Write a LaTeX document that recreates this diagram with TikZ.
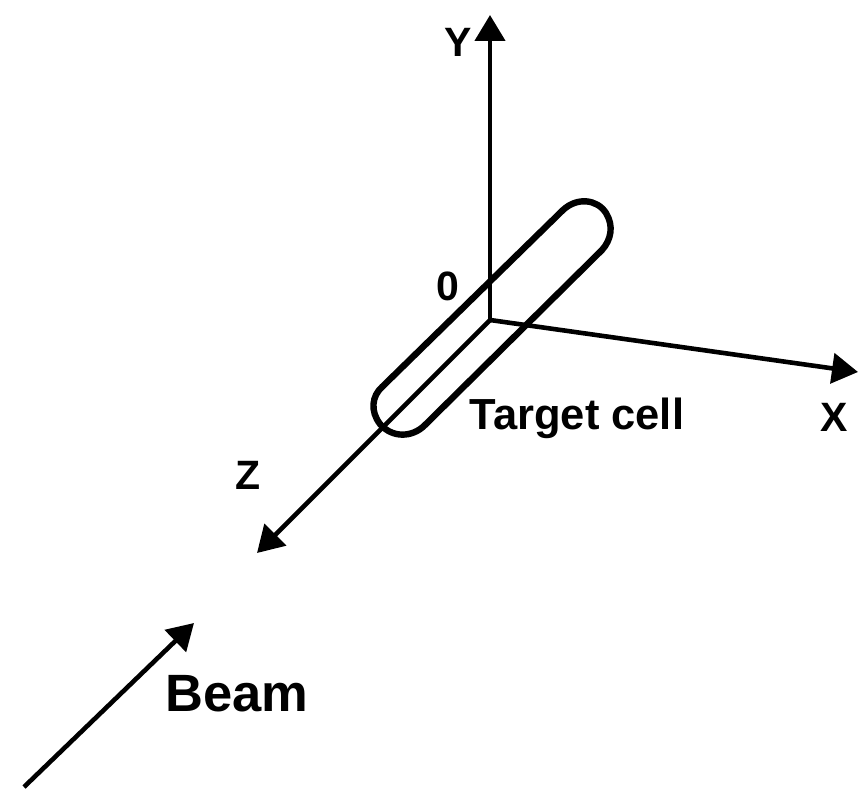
\documentclass[tikz,border=0pt]{standalone}
\usepackage{fontspec}
\setmainfont{Liberation Sans}
\usetikzlibrary{arrows.meta}
\tikzset{
  axis/.style={line width=4.6pt,black,-{Triangle[length=26pt,width=30pt]}},
  lbl/.style={font=\bfseries\fontsize{41pt}{43pt}\selectfont,inner sep=0pt,text=black},
  cell/.style={line width=6.4pt,black}
}
\begin{document}
\begin{tikzpicture}[x=1pt,y=-1pt]
\useasboundingbox (0,0) rectangle (858,789);
\coordinate (o) at (490,320);
\coordinate (yt) at (490,15);
\coordinate (xt) at (858,372);
\coordinate (zt) at (257,553);
\coordinate (b0) at (24,787);
\coordinate (b1) at (194,623);
\draw[axis] (o) -- (yt);
\draw[axis] (o) -- (xt);
\draw[axis] (o) -- (zt);
\draw[axis] (b0) -- (b1);
\draw[cell] (563,210) .. controls (577,197) and (597,199) .. (606,213) .. controls (614,226) and (611,240) .. (602,250)
 -- (425,425) .. controls (412,438) and (392,438) .. (380,424) .. controls (370,411) and (372,396) .. (382,387) -- cycle;
\node[lbl] (ly) at (458,42) {Y};
\node[lbl] (l0) at (448,286) {0};
\node[lbl,font=\bfseries\fontsize{43.5pt}{45pt}\selectfont] (lt) at (577,418) {Target cell};
\node[lbl] (lx) at (834,417) {X};
\node[lbl] (lz) at (248,475) {Z};
\node[lbl,font=\bfseries\fontsize{52.5pt}{54pt}\selectfont] (lb) at (237,694) {Beam};
\end{tikzpicture}
\end{document}
